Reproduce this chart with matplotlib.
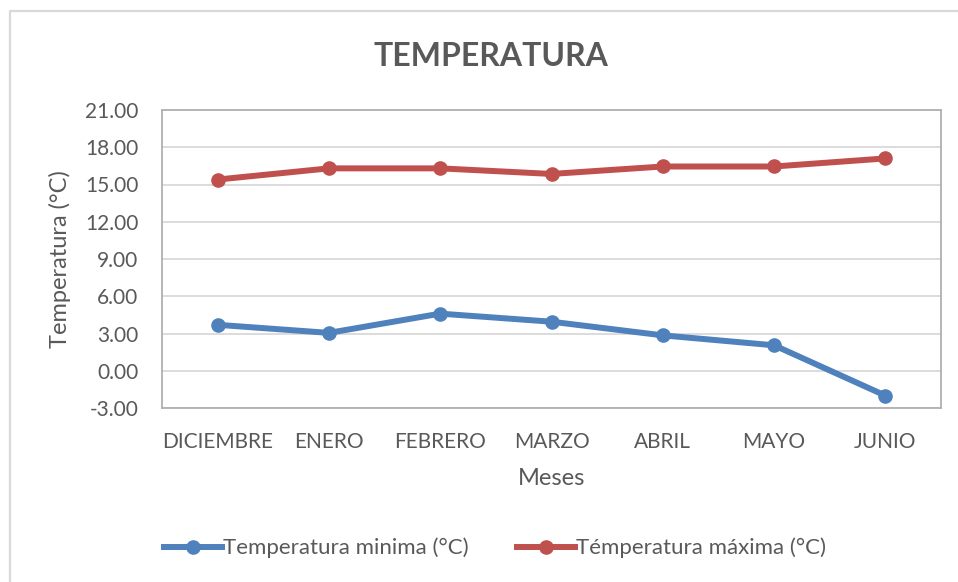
import matplotlib
matplotlib.use("Agg")
import matplotlib.pyplot as plt
from matplotlib.lines import Line2D

plt.rcParams['font.family'] = ['Lato', 'DejaVu Sans']

# ========================================================================
meses = ['DICIEMBRE', 'ENERO', 'FEBRERO', 'MARZO', 'ABRIL', 'MAYO', 'JUNIO']
temp_min = [3.70, 3.05, 4.60, 3.95, 2.85, 2.05, -2.00]
temp_max = [15.40, 16.30, 16.30, 15.85, 16.45, 16.45, 17.10]
yticks = [-3, 0, 3, 6, 9, 12, 15, 18, 21]
nombres = ['Temperatura minima (°C)', 'Témperatura máxima (°C)']

blue = '#4F81BD'
red = '#C0504D'
gray = '#595959'
lw, ms = 4.3, 9.5

fig = plt.figure(figsize=(9.58, 5.82), dpi=100)
ax = fig.add_axes([162/958, 1-408/582, (941-162)/958, (408-110)/582])

x = range(len(meses))
ax.plot(x, temp_min, color=blue, lw=lw, marker='o', ms=ms)
ax.plot(x, temp_max, color=red, lw=lw, marker='o', ms=ms)

ax.set_xlim(-0.5, len(meses)-0.5)
ax.set_ylim(-3, 21)
ax.set_yticks(yticks)
ax.set_yticklabels(['{:.2f}'.format(v) for v in yticks])
ax.set_xticks(list(x))
ax.set_xticklabels(meses)
ax.tick_params(length=0, labelsize=15, colors=gray, pad=17)
ax.yaxis.grid(True, color='#D9D9D9', lw=1.3)
ax.set_axisbelow(True)
for s in ['top', 'right', 'bottom', 'left']:
    ax.spines[s].set_color('#B0B0B0')
    ax.spines[s].set_linewidth(1.3)

ax.set_xlabel('Meses', fontsize=17, color=gray, labelpad=12)
ax.set_ylabel('Temperatura (°C)', fontsize=17, color=gray, labelpad=10)
fig.text(491/958, 1-57/582, 'TEMPERATURA', ha='center', va='center', fontsize=23,
         fontweight='bold', color=gray)

handles = [Line2D([], [], color=blue, lw=lw, marker='o', ms=ms),
           Line2D([], [], color=red, lw=lw, marker='o', ms=ms)]
fig.legend(handles, nombres,
           loc='center', bbox_to_anchor=(495/958, 1-548/582), ncol=2, frameon=False,
           fontsize=16, labelcolor=gray, handlelength=2.6, handletextpad=0.05,
           columnspacing=2.2)

# marco del grafico (solo arriba e izquierda)
fig.add_artist(Line2D([10/958, 10/958, 1], [0, 1-11/582, 1-11/582],
                      transform=fig.transFigure, color='#D9D9D9', lw=1.6))

fig.savefig('out.png', dpi=100)
